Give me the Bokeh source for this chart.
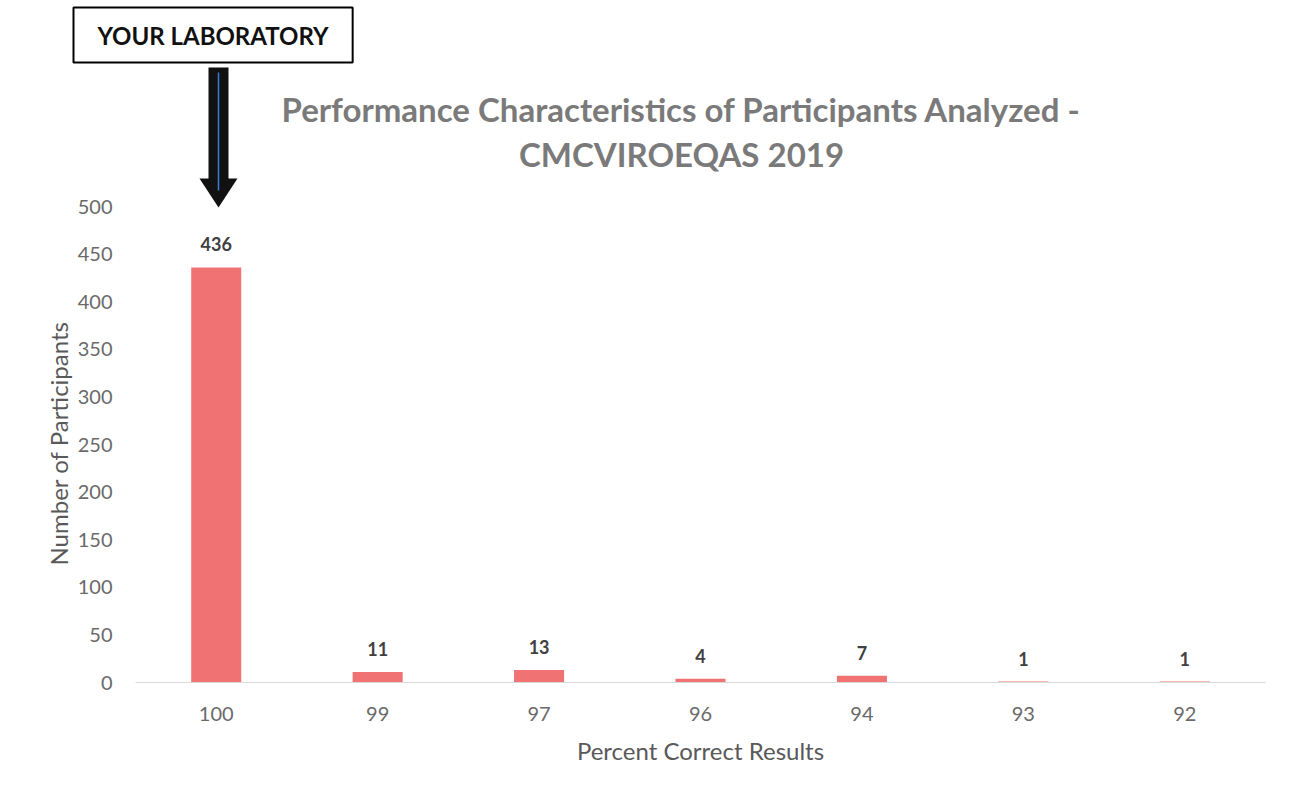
from bokeh.plotting import figure
from bokeh.models import FactorRange, Range1d, Label, Title, ColumnDataSource
from bokeh.core.properties import value
from bokeh.embed import file_html
from bokeh.resources import INLINE

# ---- data ----
categories = ["100", "99", "97", "96", "94", "93", "92"]
participants = [436, 11, 13, 4, 7, 1, 1]
y_ticks = [0, 50, 100, 150, 200, 250, 300, 350, 400, 450, 500]
title_line1 = "Performance Characteristics of Participants Analyzed -"
title_line2 = "CMCVIROEQAS 2019"
x_title = "Percent Correct Results"
y_title = "Number of Participants"
marker_text = "YOUR LABORATORY"

FONT = "Lato"
W, H = 1283, 778
FL, FR, FB, FT = 135, 1265, 682, 64   # frame edges in canvas px
PX_PER_UNIT = 0.952
ymax = (FB - FT) / PX_PER_UNIT
cat_w = (FR - FL) / len(categories)

def ux(px):
    return (px - FL) / cat_w

def vy(py):
    return (FB - py) / PX_PER_UNIT

p = figure(width=W, height=H, output_backend="svg", toolbar_location=None,
           title=None,
           x_range=FactorRange(factors=categories), y_range=Range1d(0, ymax),
           min_border_left=FL, min_border_right=W - FR,
           min_border_top=FT, min_border_bottom=H - FB)
p.outline_line_color = None
p.background_fill_color = "white"
p.xgrid.grid_line_color = None
p.ygrid.grid_line_color = None

src = ColumnDataSource(dict(x=categories, top=participants,
                            lab=[str(v) for v in participants]))
p.vbar(x="x", top="top", width=0.31, source=src, fill_color="#F07272",
       line_color=None)
p.text(x="x", y="top", text="lab", source=src, text_align="center",
       text_baseline="bottom", y_offset=-16, text_font=value(FONT),
       text_font_style="bold", text_font_size="18px", text_color="#404040")

# axes
p.yaxis.ticker = y_ticks
p.yaxis.axis_line_color = None
p.yaxis.major_tick_line_color = None
p.yaxis.minor_tick_line_color = None
p.yaxis.major_label_text_font = FONT
p.yaxis.major_label_text_font_size = "20px"
p.yaxis.major_label_text_color = "#6a6a6a"
p.yaxis.major_label_standoff = 17

# y-axis title, placed along the 0-500 scale like the original
p.add_layout(Title(text=y_title, align="left", offset=FB - 565,
                   text_font=FONT, text_font_style="normal",
                   text_font_size="24px", text_color="#595959",
                   standoff=4), "left")

p.xaxis.axis_line_color = "#d9d9d9"
p.xaxis.major_tick_line_color = None
p.xaxis.minor_tick_line_color = None
p.xaxis.major_label_text_font = FONT
p.xaxis.major_label_text_font_size = "20px"
p.xaxis.major_label_text_color = "#6a6a6a"
p.xaxis.major_label_standoff = 18
p.xaxis.axis_label = x_title
p.xaxis.axis_label_text_font = FONT
p.xaxis.axis_label_text_font_style = "normal"
p.xaxis.axis_label_text_font_size = "24px"
p.xaxis.axis_label_text_color = "#595959"
p.xaxis.axis_label_standoff = 12

# chart title
for txt, py in [(title_line1, 108), (title_line2, 153)]:
    p.add_layout(Label(x=ux(681), y=vy(py), text=txt, text_align="center",
                       text_baseline="middle", text_font=FONT,
                       text_font_style="bold", text_font_size="33px",
                       text_color="#7a7a7a"))

# marker box (above the frame)
p.add_layout(Title(text=marker_text, align="left", offset=73 - FL,
                   standoff=0, vertical_align="top",
                   text_font=FONT, text_font_style="bold",
                   text_font_size="24px", text_color="#111111",
                   border_line_color="black", border_line_width=2,
                   background_fill_color="white",
                   padding=dict(left=24, right=24, top=13, bottom=13)), "above")

# arrow
p.quad(left=[ux(208)], right=[ux(228)], top=[vy(67)], bottom=[vy(179)],
       fill_color="#111111", line_color=None)
p.patch(x=[ux(199), ux(237), ux(218)], y=[vy(178), vy(178), vy(207)],
        fill_color="#111111", line_color=None)
p.segment(x0=[ux(218)], y0=[vy(72)], x1=[ux(218)], y1=[vy(190)],
          line_color="#3a7bd5", line_width=1.5)

open("out.html", "w").write(file_html(p, INLINE))
